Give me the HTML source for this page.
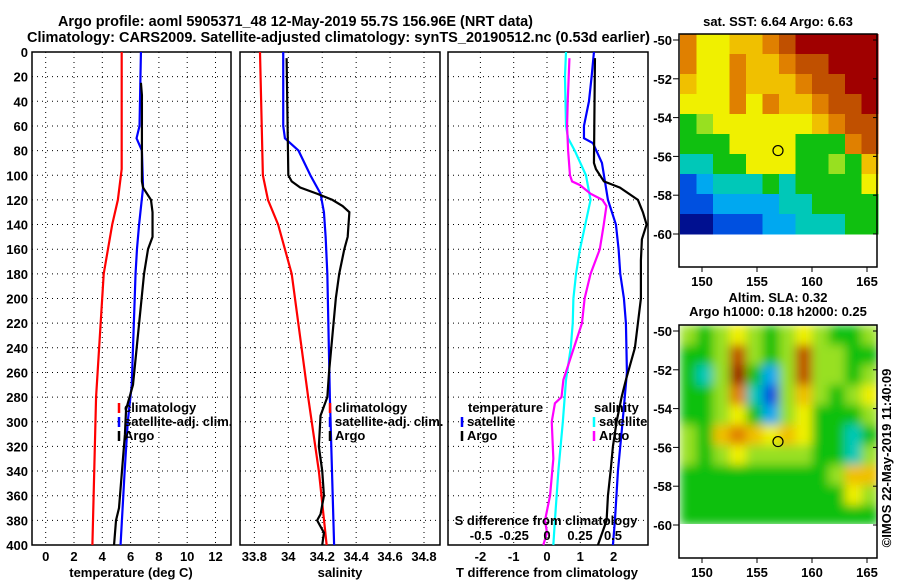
<!DOCTYPE html>
<html><head><meta charset="utf-8"><style>
body{margin:0;background:#fff;}
svg text{font-family:"Liberation Sans",sans-serif;font-weight:bold;font-size:13px;fill:#000;}
</style></head><body>
<svg id="c" width="900" height="580" xmlns="http://www.w3.org/2000/svg">
<defs>
<filter id="blur" x="0" y="0" width="1" height="1"><feGaussianBlur stdDeviation="5" edgeMode="duplicate"/></filter>
<clipPath id="slaclip"><rect x="679" y="325" width="198" height="199"/></clipPath>
</defs>
<text x="295.5" y="26" text-anchor="middle" style="font-size:14.5px" textLength="475" lengthAdjust="spacingAndGlyphs">Argo profile: aoml 5905371_48 12-May-2019 55.7S 156.96E (NRT data)</text>
<text x="338.5" y="42" text-anchor="middle" style="font-size:14.5px" textLength="623" lengthAdjust="spacingAndGlyphs">Climatology: CARS2009. Satellite-adjusted climatology: synTS_20190512.nc (0.53d earlier)</text>
<g id="g"></g>
</svg>
<script>
const tDepth=[0,95,120,140,180,280,400];
const tClim=[5.37,5.37,5.1,4.7,4.1,3.56,3.3];
const tSatD=[0,60,70,80,110,140,160,180,270,300,340,400];
const tSat=[6.73,6.63,6.42,6.8,6.88,6.6,6.45,6.35,6.08,5.8,5.58,5.29];
const tArgoD=[25,35,105,110,120,130,150,160,180,270,290,310,340,370,380,400];
const tArgo=[6.73,6.8,6.8,6.88,7.44,7.55,7.55,7.23,6.95,6.17,5.68,5.6,5.39,5.18,4.97,4.83];
const sClimD=[0,100,120,140,180,280,340,400];
const sClim=[33.833,33.85,33.88,33.94,34.02,34.117,34.18,34.226];
const sSatD=[0,60,70,80,100,115,130,150,180,280,400];
const sSat=[33.97,33.97,33.98,34.06,34.13,34.19,34.21,34.22,34.23,34.245,34.27];
const sArgoD=[5,100,105,110,115,120,125,130,150,160,180,200,260,280,295,320,340,360,375,380,390,400];
const sArgo=[33.99,34.0,34.02,34.07,34.17,34.26,34.32,34.36,34.35,34.33,34.3,34.28,34.24,34.23,34.19,34.18,34.2,34.21,34.19,34.17,34.21,34.2];
const dTSatD=[0,20,40,60,70,74,90,120,140,160,180,200,220,260,300,340,380,400];
const dTSat=[1.41,1.34,1.26,1.11,1.11,1.38,1.65,1.83,2.07,2.15,2.2,2.31,2.37,2.4,2.27,2.13,2.04,1.98];
const dTArgoD=[5,90,95,105,110,120,130,140,152,169,200,220,240,266,280,300,320,340,360,380,400];
const dTArgo=[1.44,1.41,1.47,1.71,2.19,2.73,2.88,2.99,2.85,2.82,2.82,2.73,2.64,2.37,2.24,2.09,1.98,1.91,1.83,1.79,1.53];
const dSSatD=[0,20,60,70,80,100,120,140,160,180,200,220,240,266,300,340,380,400];
const dSSat=[0.144,0.136,0.144,0.16,0.21,0.295,0.33,0.29,0.25,0.22,0.2,0.195,0.18,0.144,0.12,0.086,0.06,0.048];
const dSArgoD=[5,40,60,80,100,105,108,115,120,125,140,160,180,200,220,266,280,285,300,330,360,380,390,400];
const dSArgo=[0.17,0.157,0.152,0.16,0.174,0.19,0.25,0.33,0.42,0.45,0.43,0.4,0.33,0.285,0.265,0.124,0.11,0.06,0.036,0.048,0.023,-0.015,0,-0.028];
const sstGrid=[
[8,6,6,7,7,8,9,10,10,10,10,10],
[8,6,6,8,7,7,8,9,9,10,10,10],
[7,6,6,8,7,7,7,8,9,9,10,10],
[6,6,6,8,6,8,7,7,8,9,9,10],
[4,5,6,6,6,6,6,6,7,8,9,9],
[4,4,4,6,6,6,6,4,4,4,8,9],
[3,3,4,4,6,6,6,4,4,5,4,7],
[1,2,3,3,3,4,3,4,4,4,4,6],
[1,1,2,2,2,2,3,3,4,4,4,4],
[0,0,1,1,1,2,2,3,3,3,4,4]];
const slaGrid=[
[5,4,5,6,5,4,5,6,5,4,4,5],
[4,4,5,9,5,4,5,9,5,5,4,4],
[4,3,5,10,4,2,5,9,5,5,4,5],
[4,4,5,8,3,1,5,7,5,4,5,6],
[4,4,5,6,4,2,5,6,4,4,4,5],
[5,4,7,8,7,6,7,6,4,4,3,4],
[5,4,5,6,5,5,5,5,4,4,3,5],
[4,4,4,4,4,4,4,4,4,5,7,7],
[4,4,4,4,4,4,4,4,4,4,6,5],
[4,4,4,4,4,4,4,4,4,4,4,4]];
const cmap=["#001090","#0050e0","#00a8f0","#00c8b8","#10c010","#98e020","#f0f000","#f0c000","#e08000","#c05000","#a00000"];

const NS='http://www.w3.org/2000/svg';
const G=document.getElementById('g');
function el(t,a,p){const e=document.createElementNS(NS,t);for(const k in a)e.setAttribute(k,a[k]);(p||G).appendChild(e);return e;}
function txt(x,y,s,anchor,p){const e=el('text',{x:x,y:y,'text-anchor':anchor||'middle'},p);e.textContent=s;return e;}
const Y=d=>52+d*1.2325;

function panel(name,x0,x1,gx,fx){
  const g=el('g',{});
  
  
  for(let d=20;d<400;d+=20){el('line',{x1:x0,x2:x1,y1:Y(d),y2:Y(d),stroke:'#000','stroke-dasharray':'1,4'},g);}
  gx.forEach(v=>{el('line',{x1:fx(v),x2:fx(v),y1:52,y2:545,stroke:'#000','stroke-dasharray':'1,4'},g);});
  const r=el('rect',{x:x0,y:52,width:x1-x0,height:493,fill:'none',stroke:'#000','stroke-width':1.5},g);
  
  
  return g;
}
function line(name,ds,vs,fx,col,g){
  const p=el('polyline',{points:ds.map((d,i)=>fx(vs[i])+','+Y(d)).join(' '),fill:'none',stroke:col,'stroke-width':2.2},g);
  
  
}
function leg(x,y,col,s,g){
  el('line',{x1:x,x2:x,y1:y-9,y2:y+1,stroke:col,'stroke-width':2.5},g);
  const t=txt(x+5,y,s,'start',g);
  
  
}
for(let d=0;d<=400;d+=20){const t=txt(28,Y(d)+5,String(d),'end');
  
  }

const fT=v=>45.7+v*14.15;
const p1=panel('temperature-panel',32,231,[0,2,4,6,8,10,12],fT);
[0,2,4,6,8,10,12].forEach(v=>{const t=txt(fT(v),561,String(v),'middle',p1);});
line('temp-climatology-line',tDepth,tClim,fT,'#f00',p1);
line('temp-satellite-line',tSatD,tSat,fT,'#00f',p1);
line('temp-argo-line',tArgoD,tArgo,fT,'#000',p1);
leg(119,412,'#f00','climatology',p1);leg(119,426,'#00f','satellite-adj. clim.',p1);leg(119,440,'#000','Argo',p1);
txt(131,577,'temperature (deg C)','middle',p1);

const fS=v=>254.4+(v-33.8)*169.6;
const sT=[33.8,34,34.2,34.4,34.6,34.8];
const p2=panel('salinity-panel',240,440,sT,fS);
['33.8','34','34.2','34.4','34.6','34.8'].forEach((s,i)=>{const t=txt(fS(sT[i]),561,s,'middle',p2);});
line('sal-climatology-line',sClimD,sClim,fS,'#f00',p2);
line('sal-satellite-line',sSatD,sSat,fS,'#00f',p2);
line('sal-argo-line',sArgoD,sArgo,fS,'#000',p2);
leg(330,412,'#f00','climatology',p2);leg(330,426,'#00f','satellite-adj. clim.',p2);leg(330,440,'#000','Argo',p2);
txt(340,577,'salinity','middle',p2);

const fD=v=>547+v*33.3, fDS=v=>547+v*132;
const p3=panel('difference-panel',448,648,[-2,-1,0,1,2],fD);
[-2,-1,0,1,2].forEach(v=>{const t=txt(fD(v),561,String(v),'middle',p3);});
line('dT-satellite-line',dTSatD,dTSat,fD,'#00f',p3);
line('dT-argo-line',dTArgoD,dTArgo,fD,'#000',p3);
line('dS-satellite-line',dSSatD,dSSat,fDS,'#0ff',p3);
line('dS-argo-line',dSArgoD,dSArgo,fDS,'#f0f',p3);
txt(468,412,'temperature','start',p3);leg(462,426,'#00f','satellite',p3);leg(462,440,'#000','Argo',p3);
txt(594,412,'salinity','start',p3);leg(594,426,'#0ff','satellite',p3);leg(594,440,'#f0f','Argo',p3);
txt(546,525,'S difference from climatology','middle',p3);
[['-0.5',-0.5],['-0.25',-0.25],['0',0],['0.25',0.25],['0.5',0.5]].forEach(a=>{const t=txt(fDS(a[1]),540,a[0],'middle',p3);});
txt(547,577,'T difference from climatology','middle',p3);

function map(name,grid,top,lat50,smooth){
  const g=el('g',{});
  
  
  const px=11, py=19.4, fx=l=>680+(l-148)*px, fy=l=>lat50+(-50-l)*py;
  const y60=fy(-60), ch=(y60-top)/grid.length;
  let cg=g;
  if(smooth){const outer=el('g',{'clip-path':'url(#slaclip)'},g);cg=el('g',{filter:'url(#blur)'},outer);}
  grid.forEach((row,r)=>row.forEach((v,c)=>{
    const cell=el('rect',{x:fx(148+c*1.5),y:top+r*ch,width:1.5*px+0.5,height:ch+0.5,fill:cmap[v]},cg);
    
    
  }));
  const bottom=top+233;
  el('rect',{x:679,y:top,width:198,height:233,fill:'none',stroke:'#000','stroke-width':1.5},g);
  for(let l=-50;l>=-60;l-=2){el('line',{x1:673,x2:679,y1:fy(l),y2:fy(l),stroke:'#000'},g);el('line',{x1:873,x2:877,y1:fy(l),y2:fy(l),stroke:'#000'},g);
    txt(672,fy(l)+5,String(l),'end',g);}
  [150,155,160,165].forEach(l=>{el('line',{x1:fx(l),x2:fx(l),y1:bottom,y2:bottom+5,stroke:'#000'},g);txt(fx(l),bottom+19,String(l),'middle',g);});
  const m=el('circle',{cx:778,cy:fy(-55.7),r:5,fill:'none',stroke:'#000','stroke-width':1.2},g);
  
  
  return g;
}
map('sst-map',sstGrid,34,40,false);
map('sla-map',slaGrid,325,331,true);
txt(778,26,'sat. SST: 6.64 Argo: 6.63');
txt(778,302,'Altim. SLA: 0.32');
txt(778,316,'Argo h1000: 0.18 h2000: 0.25');
const cp=txt(0,0,'©IMOS 22-May-2019 11:40:09','middle');
cp.setAttribute('transform','translate(891,458) rotate(-90)');
cp.setAttribute('font-weight','normal');cp.setAttribute('font-size','12');


</script>
</body></html>
